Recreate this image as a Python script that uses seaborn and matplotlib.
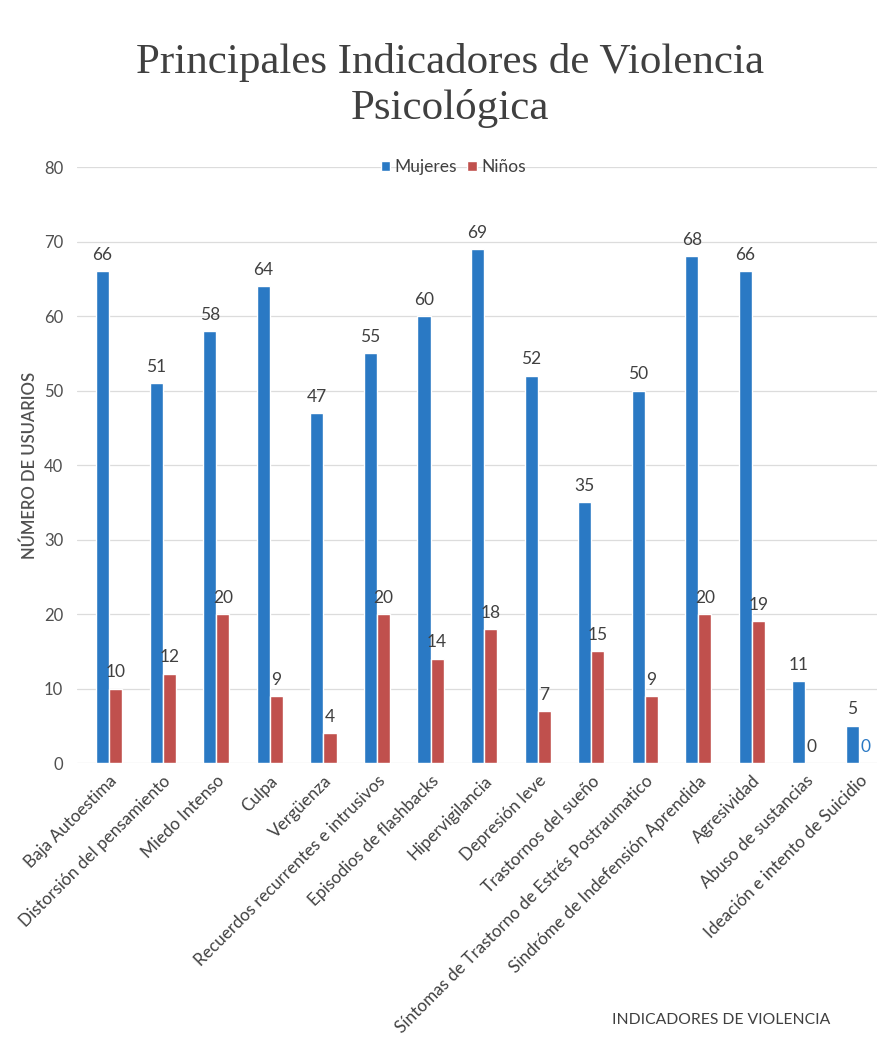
import matplotlib
matplotlib.use("Agg")
import matplotlib.pyplot as plt
import seaborn as sns
import pandas as pd

categorias = [
    "Baja Autoestima", "Distorsión del pensamiento", "Miedo Intenso", "Culpa",
    "Vergüenza", "Recuerdos recurrentes e intrusivos", "Episodios de flashbacks",
    "Hipervigilancia", "Depresión leve", "Trastornos del sueño",
    "Síntomas de Trastorno de Estrés Postraumatico",
    "Sindróme de Indefensión Aprendida", "Agresividad", "Abuso de sustancias",
    "Ideación e intento de Suicidio",
]
mujeres = [66, 51, 58, 64, 47, 55, 60, 69, 52, 35, 50, 68, 66, 11, 5]
ninos = [10, 12, 20, 9, 4, 20, 14, 18, 7, 15, 9, 20, 19, 0, 0]
series = ["Mujeres", "Niños"]
yticks = [0, 10, 20, 30, 40, 50, 60, 70, 80]

df = pd.DataFrame({
    "cat": categorias * 2,
    "val": mujeres + ninos,
    "serie": [series[0]] * len(categorias) + [series[1]] * len(categorias),
})

sns.set_theme(style="white")
plt.rcParams["font.family"] = ["Lato", "DejaVu Sans"]

BLUE = "#2A79C4"
RED = "#C0504D"
TXT = "#404040"

fig = plt.figure(figsize=(8.78, 10.51), dpi=100)
ax = fig.add_axes([0.0877, 0.274, 0.912, 0.567])

sns.barplot(data=df, x="cat", y="val", hue="serie", palette=[BLUE, RED],
            width=0.49, ax=ax, saturation=1, legend=True)

ax.set_ylim(0, 80)
ax.set_xlim(-0.6, 14.35)
ax.set_yticks(yticks)
ax.yaxis.grid(True, color="#DCDCDC", lw=0.9)
ax.set_axisbelow(True)
for s in ax.spines.values():
    s.set_visible(False)
ax.tick_params(axis="y", labelsize=12, labelcolor="#505050", length=0, pad=10)
ax.tick_params(axis="x", labelsize=12.3, labelcolor=TXT, length=0, pad=7)
plt.setp(ax.get_xticklabels(), rotation=45, ha="right", rotation_mode="anchor")

ax.set_ylabel("NÚMERO DE USUARIOS", fontsize=12, color="#505050", labelpad=4,
              fontweight="semibold")
ax.set_xlabel("")
fig.text(0.821, 0.026, "INDICADORES DE VIOLENCIA", fontsize=11.3, color=TXT, ha="center")

for i, cont in enumerate(ax.containers):
    texts = ax.bar_label(cont, padding=6, fontsize=12.5, color=TXT)
    if i == 1:
        texts[-1].set_color(BLUE)

handles, labels = ax.get_legend_handles_labels()
ax.legend(handles, labels, loc="center", bbox_to_anchor=(0.47, 1.0), ncol=2,
          frameon=False, fontsize=12.5, handlelength=0.55, handleheight=0.55,
          handletextpad=0.25, columnspacing=0.6, labelcolor=TXT)

fig.text(0.513, 0.941, "Principales Indicadores de Violencia", fontsize=31,
         family="Liberation Serif", color=TXT, ha="center", va="center")
fig.text(0.513, 0.897, "Psicológica", fontsize=31,
         family="Liberation Serif", color=TXT, ha="center", va="center")

fig.savefig("out.png", dpi=100, facecolor="white")
